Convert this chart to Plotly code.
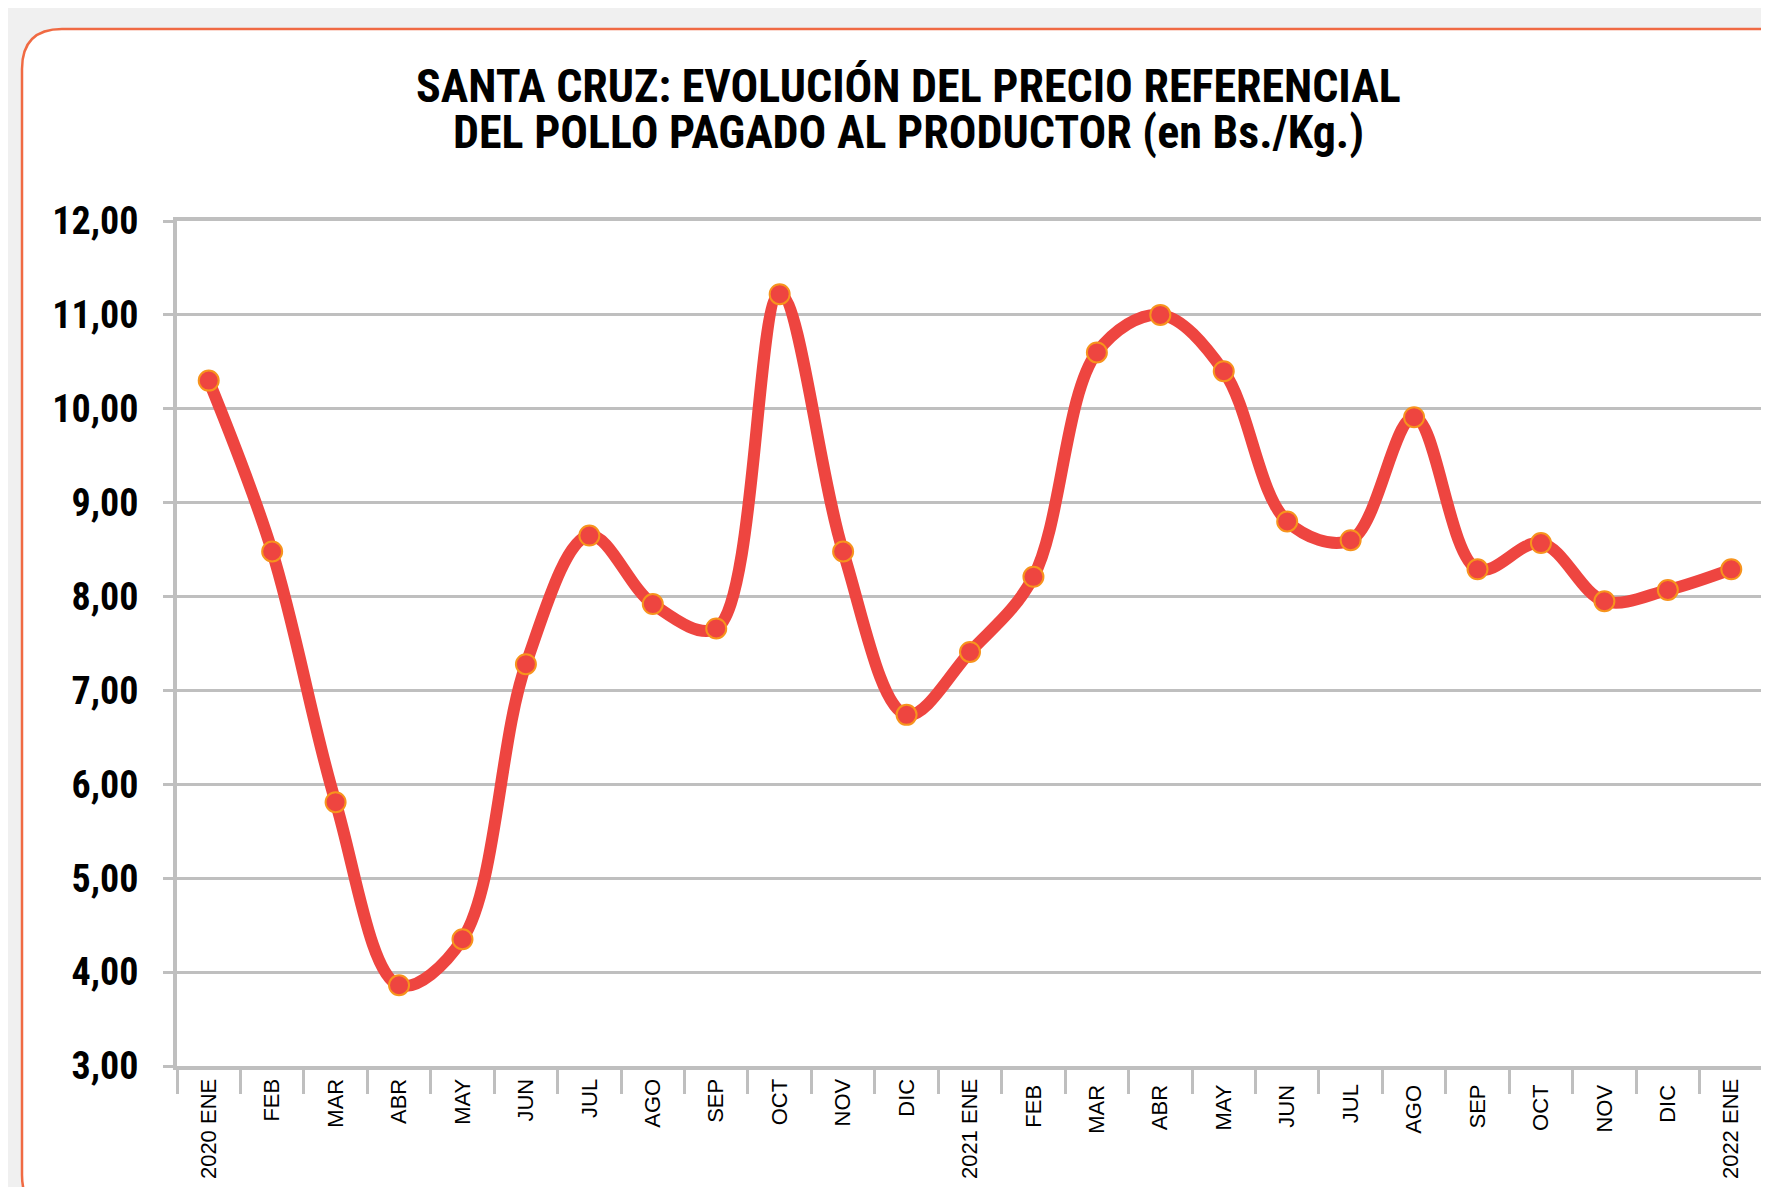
import plotly.graph_objects as go

categories = ["2020 ENE", "FEB", "MAR", "ABR", "MAY", "JUN", "JUL", "AGO", "SEP", "OCT", "NOV", "DIC",
              "2021 ENE", "FEB ", "MAR ", "ABR ", "MAY ", "JUN ", "JUL ", "AGO ", "SEP ", "OCT ", "NOV ", "DIC ",
              "2022 ENE"]
prices = [10.30, 8.48, 5.81, 3.86, 4.35, 7.28, 8.65, 7.92, 7.66, 11.22, 8.48, 6.74,
          7.41, 8.21, 10.60, 11.00, 10.40, 8.80, 8.60, 9.91, 8.29, 8.57, 7.95, 8.07,
          8.29]
y_ticks = [3, 4, 5, 6, 7, 8, 9, 10, 11, 12]
y_tick_text = ["3,00", "4,00", "5,00", "6,00", "7,00", "8,00", "9,00", "10,00", "11,00", "12,00"]
title_lines = ["SANTA CRUZ: EVOLUCIÓN DEL PRECIO REFERENCIAL",
               "DEL POLLO PAGADO AL PRODUCTOR (en Bs./Kg.)"]

OFF = 8  # page body margin
W, H = 1769 - OFF, 1187 - OFF
L, R, T, B = 177 - OFF, 1763 - OFF, 221 - OFF, 1066 - OFF
PW, PH = R - L, B - T

def px(x):
    return (x - OFF - L) / PW

def py(y):
    return (B - (y - OFF)) / PH

NARROW = "Roboto Condensed, Liberation Sans Narrow, Arial Narrow, Liberation Sans, Arial, sans-serif"
REG = "Liberation Sans, Arial, sans-serif"
GRID = "#bfbfbf"

fig = go.Figure()
fig.add_trace(go.Scatter(
    x=categories, y=prices, mode="lines+markers",
    line=dict(color="#ee4540", width=12, shape="spline", smoothing=1.0),
    marker=dict(size=20, color="#ee4540", line=dict(color="#f7941d", width=2)),
    showlegend=False, cliponaxis=False,
))

# card with rounded corners (page pixel coordinates)
x0, y0, x1, y1, r = 22, 29, 1830, 1215, 40
path = (f"M {px(x0)},{py(y0 + r)} Q {px(x0)},{py(y0)} {px(x0 + r)},{py(y0)} "
        f"L {px(x1 - r)},{py(y0)} Q {px(x1)},{py(y0)} {px(x1)},{py(y0 + r)} "
        f"L {px(x1)},{py(y1 - r)} Q {px(x1)},{py(y1)} {px(x1 - r)},{py(y1)} "
        f"L {px(x0 + r)},{py(y1)} Q {px(x0)},{py(y1)} {px(x0)},{py(y1 - r)} Z")
fig.add_shape(type="path", path=path, xref="paper", yref="paper", layer="below",
              fillcolor="white", line=dict(color="#f06a43", width=2.5))

for txt, yy in zip(title_lines, [86, 132]):
    fig.add_annotation(text=f"<b>{txt}</b>", x=px(908), y=py(yy), xref="paper", yref="paper",
                       xanchor="center", yanchor="middle", showarrow=False,
                       font=dict(family=NARROW, size=46, color="black"))

fig.update_layout(
    width=W, height=H,
    margin=dict(l=L, r=W - R, t=T, b=H - B, autoexpand=False),
    paper_bgcolor="#f0f0f0", plot_bgcolor="white",
    xaxis=dict(
        type="category", tickson="boundaries", ticks="outside", ticklen=24, tickwidth=3,
        tickcolor=GRID, showline=True, linecolor=GRID, linewidth=4, mirror=True,
        showgrid=False, tickangle=-90, range=[-0.5, len(categories) - 0.5],
        tickfont=dict(family=REG, size=22, color="black"),
    ),
    yaxis=dict(
        range=[3, 12], tickvals=y_ticks, ticktext=y_tick_text, ticks="outside",
        ticklen=10, tickwidth=3, tickcolor=GRID, showline=True, linecolor=GRID,
        linewidth=4, mirror=True, showgrid=True, gridcolor=GRID, gridwidth=3,
        zeroline=False, ticklabelstandoff=17,
        tickfont=dict(family=NARROW, size=38, color="black", weight="bold"),
    ),
)

fig.write_html("out.html")
